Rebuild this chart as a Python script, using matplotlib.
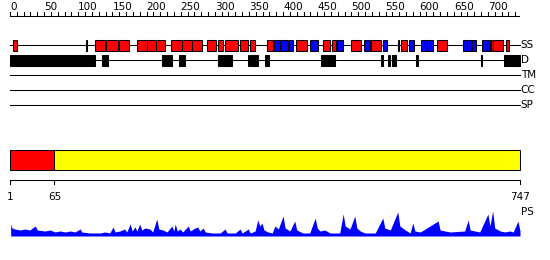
import matplotlib
matplotlib.use('Agg')
import matplotlib.pyplot as plt
from matplotlib.patches import Rectangle

seq_len = 747

# secondary structure segments (residue start, end)
ss_helix = [(6, 10), (126, 139), (142, 158), (160, 174), (187, 201), (202, 214),
            (215, 227), (237, 252), (253, 267), (268, 281), (289, 302), (305, 312),
            (316, 334), (338, 349), (352, 359), (378, 385), (420, 435), (460, 469),
            (473, 478), (501, 514), (530, 543), (574, 582), (627, 640), (705, 708),
            (709, 722), (728, 731)]
ss_strand = [(388, 395), (397, 407), (409, 415), (441, 451), (480, 488), (519, 527),
             (548, 552), (586, 592), (603, 611), (612, 620), (665, 669), (671, 677),
             (678, 683), (693, 699), (700, 703)]
ss_other = [(112, 113), (569, 570)]

# disordered segments
disorder = [(1, 124), (136, 144), (224, 237), (249, 256), (305, 319), (321, 325),
            (349, 350), (353, 363), (375, 379), (457, 464), (464, 476), (545, 546),
            (554, 557), (561, 565), (596, 597), (691, 692), (724, 747)]

track_names = ['SS', 'D', 'TM', 'CC', 'SP']

domain_bounds = [1, 65, 747]

# profile (residue, height)
ps_pos = [1, 3, 7, 15, 22, 29, 37, 40, 51, 59, 66, 73, 81, 88, 95, 103, 105, 117, 132,
          139, 146, 151, 154, 161, 168, 171, 176, 179, 183, 186, 190, 193, 198, 205,
          209, 215, 218, 224, 230, 237, 240, 242, 245, 249, 253, 261, 264, 271, 275,
          278, 283, 286, 296, 308, 315, 318, 330, 337, 340, 349, 352, 359, 363, 366,
          369, 372, 378, 384, 388, 393, 400, 403, 410, 417, 420, 429, 439, 447, 450,
          454, 461, 469, 483, 488, 491, 498, 505, 508, 513, 520, 535, 546, 549, 557,
          568, 571, 579, 586, 590, 593, 601, 627, 630, 637, 645, 666, 671, 674, 688,
          700, 703, 707, 710, 718, 725, 732, 737, 744, 747]
ps_val = [12, 8, 7, 6, 7, 6, 10, 6, 5, 6, 4, 5, 4, 5, 4, 7, 4, 3, 3,
          4, 3, 9, 4, 5, 7, 4, 12, 5, 9, 5, 12, 6, 8, 7,
          4, 17, 7, 6, 4, 10, 5, 12, 5, 7, 4, 10, 5, 8, 9,
          5, 8, 4, 3, 3, 7, 3, 3, 7, 3, 7, 3, 5, 16, 10,
          13, 6, 4, 3, 10, 7, 20, 8, 5, 15, 6, 3, 3, 18, 8,
          5, 6, 3, 3, 22, 10, 7, 20, 8, 5, 3, 3, 18, 8, 6,
          24, 10, 6, 3, 13, 5, 4, 15, 6, 5, 4, 5, 16, 6, 4,
          22, 10, 25, 8, 5, 4, 5, 4, 15, 5]

fig = plt.figure(figsize=(5.5, 2.6), dpi=100)
ax = fig.add_axes([0, 0, 1, 1])
px = 510 / seq_len
ax.set_xlim(-10 / px, 540 / px)
ax.set_ylim(260, 0)
ax.axis('off')

lw = 0.75
fs = 7.5

# ruler
ax.plot([0, 745], [16, 16], color='black', lw=lw)
for t in range(0, 741, 10):
    ax.plot([t, t], [12, 16], color='black', lw=lw)
for t in range(0, 701, 50):
    ax.text(t, 10, str(t), fontsize=fs, ha='left', va='baseline')

# tracks
track_y = [45, 60, 75, 90, 105]
for y, name in zip(track_y, track_names):
    ax.plot([0, seq_len], [y, y], color='black', lw=lw, zorder=1)
    ax.text(seq_len + 1, y, name, fontsize=fs, ha='left', va='center')

def boxes(segs, y, h, color):
    for s, e in segs:
        ax.add_patch(Rectangle((s - 1, y - h / 2), e - s + 1, h, facecolor=color,
                               edgecolor='black', lw=lw, zorder=2))

boxes(ss_helix, 45, 11, 'red')
boxes(ss_strand, 45, 11, 'blue')
boxes(ss_other, 45, 11, 'black')
boxes(disorder, 60, 11, 'black')

# domain bar
ax.add_patch(Rectangle((domain_bounds[0] - 1, 150), domain_bounds[1] - domain_bounds[0] + 1, 20,
                       facecolor='red', edgecolor='black', lw=lw))
ax.add_patch(Rectangle((domain_bounds[1], 150), domain_bounds[2] - domain_bounds[1], 20,
                       facecolor='yellow', edgecolor='black', lw=lw))

ax.plot([0, seq_len], [180, 180], color='black', lw=lw)
for b in domain_bounds:
    x = b - 1 if b == 1 else b
    ax.plot([x, x], [180, 184], color='black', lw=lw)
    ax.text(x, 200, str(b), fontsize=fs, ha='center', va='baseline')

# profile
base = 236
ax.fill_between(ps_pos, base, [base - v for v in ps_val], color='blue', lw=0)
ax.text(seq_len + 2, 212, 'PS', fontsize=fs, ha='left', va='center')

fig.savefig('out.png', dpi=100)
